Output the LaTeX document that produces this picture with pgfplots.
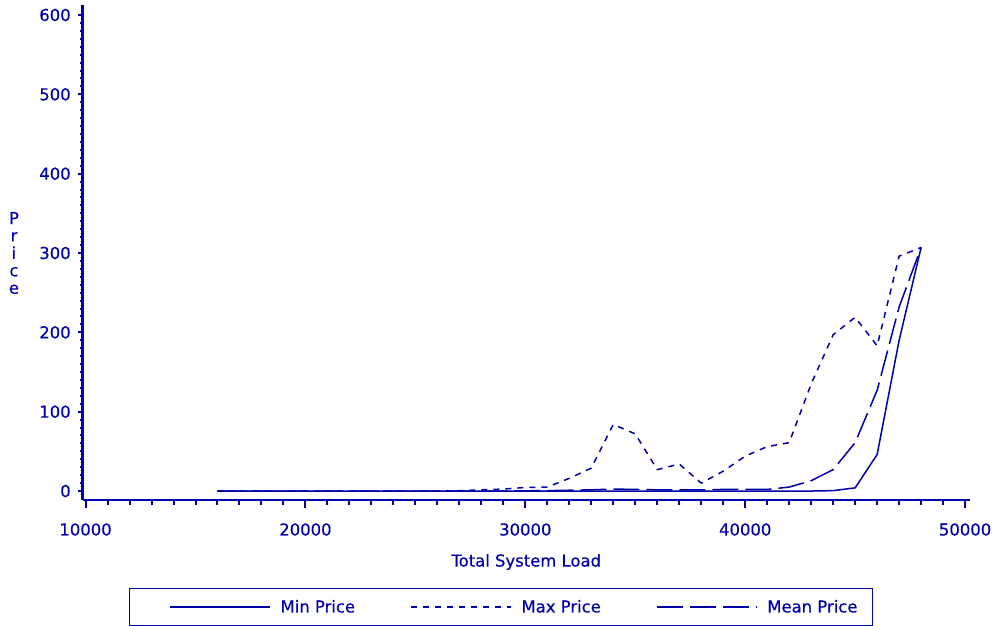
\documentclass[border=0pt]{standalone}
\usepackage{pgfplots}
\usepackage{pgfplotstable}
\pgfplotsset{compat=1.18}
\usepackage{fontspec}
\setmainfont{DejaVu Sans}[FakeBold=0.4]
\definecolor{sasblue}{RGB}{0,0,170}

\pgfplotstableread{
x min max mean
16000 0 0 0
17000 0 0 0
18000 0 0 0
19000 0 0 0
20000 0 0 0
21000 0 0 0
22000 0 0 0
23000 0 0 0
24000 0 0 0
25000 0 0 0
26000 0 0 0
27000 0 0.5 0
28000 0 1.5 0
29000 0 2.5 0
30000 0 4.5 0.3
31000 0 5 0.5
32000 0 16 1
33000 0 29 1.5
34000 0 84 2.5
35000 0 72 2
36000 0 27 1.5
37000 0 34 1.5
38000 0 10 1.5
39000 0 25 2
40000 0 44 2
41000 0 56 2
42000 0 61 5
43000 0 135 13
44000 0.5 197 27
45000 4 219 61
46000 46 183 127
47000 190 296 232
48000 307 307 307
}\pricedata

\begin{document}
\begin{tikzpicture}
\path[use as bounding box] (0,0) rectangle (996bp,626bp);
\pgfplotsset{
 base/.style={
  at={(82.7bp,126bp)}, anchor=south west, scale only axis,
  width=887bp, height=495bp,
  xmin=9870, xmax=50210, ymin=-11.3, ymax=612.6,
  font=\fontsize{16.5}{19.8}\selectfont,
  /pgf/number format/assume math mode=true,
  /pgf/number format/1000 sep={},
  scaled ticks=false,
  tick style={line width=2bp, color=sasblue},
  tick label style={color=sasblue},
  label style={color=sasblue},
 },
 fixlines/.style={
  tick align=outside,
  axis line style={line width=2.7bp, -, color=sasblue},
  every outer x axis line/.append style={-},
  every outer y axis line/.append style={-},
  x axis line style={-}, y axis line style={-},
 }
}
\begin{axis}[base,
  axis x line=bottom, axis y line=none, fixlines,
  xtick={10000,20000,30000,40000,50000}, minor x tick num=9,
  ytick=\empty,
  major tick length=8.5bp, minor tick length=5.5bp,
  xticklabel style={anchor=center, yshift=-21bp},
  xlabel={Total System Load},
  xlabel style={at={(axis description cs:0.5,0)}, anchor=center, yshift=-62bp},
  legend columns=3,
  legend cell align=left,
  legend style={at={(axis description cs:0.4713,0)}, anchor=north, yshift=-88bp,
    draw=sasblue, line width=1bp, text=sasblue,
    font=\fontsize{16.5}{19.8}\selectfont,
    inner xsep=15bp, inner ysep=11.5bp,
    nodes={inner sep=0pt},
    /tikz/every even column/.append style={column sep=30bp},
    /tikz/every odd column/.append style={column sep=10bp}},
  legend image code/.code={\path (0bp,0bp); \draw[#1] (25bp,0bp) -- (125bp,0bp);},
]
\addplot[sasblue, line width=1.5bp] table[x=x,y=min] {\pricedata};
\addlegendentry{Min Price}
\addplot[sasblue, line width=1.5bp, dash pattern=on 6bp off 6bp] table[x=x,y=max] {\pricedata};
\addlegendentry{Max Price}
\addplot[sasblue, line width=1.5bp, dash pattern=on 26bp off 7bp] table[x=x,y=mean] {\pricedata};
\addlegendentry{Mean Price}
\end{axis}
\begin{axis}[base,
  axis y line=left, axis x line=none, fixlines,
  xtick=\empty,
  ytick={0,100,...,600}, minor y tick num=9,
  major tick length=4.5bp, minor tick length=3bp,
  yticklabel style={anchor=east, xshift=-4bp},
  ylabel={P\\r\\i\\c\\e},
  ylabel style={rotate=-90, align=center, font=\fontsize{16.5}{17.5}\selectfont,
    at={(axis description cs:-0.0775,0.499)}, anchor=center},
]
\end{axis}
\end{tikzpicture}
\end{document}
